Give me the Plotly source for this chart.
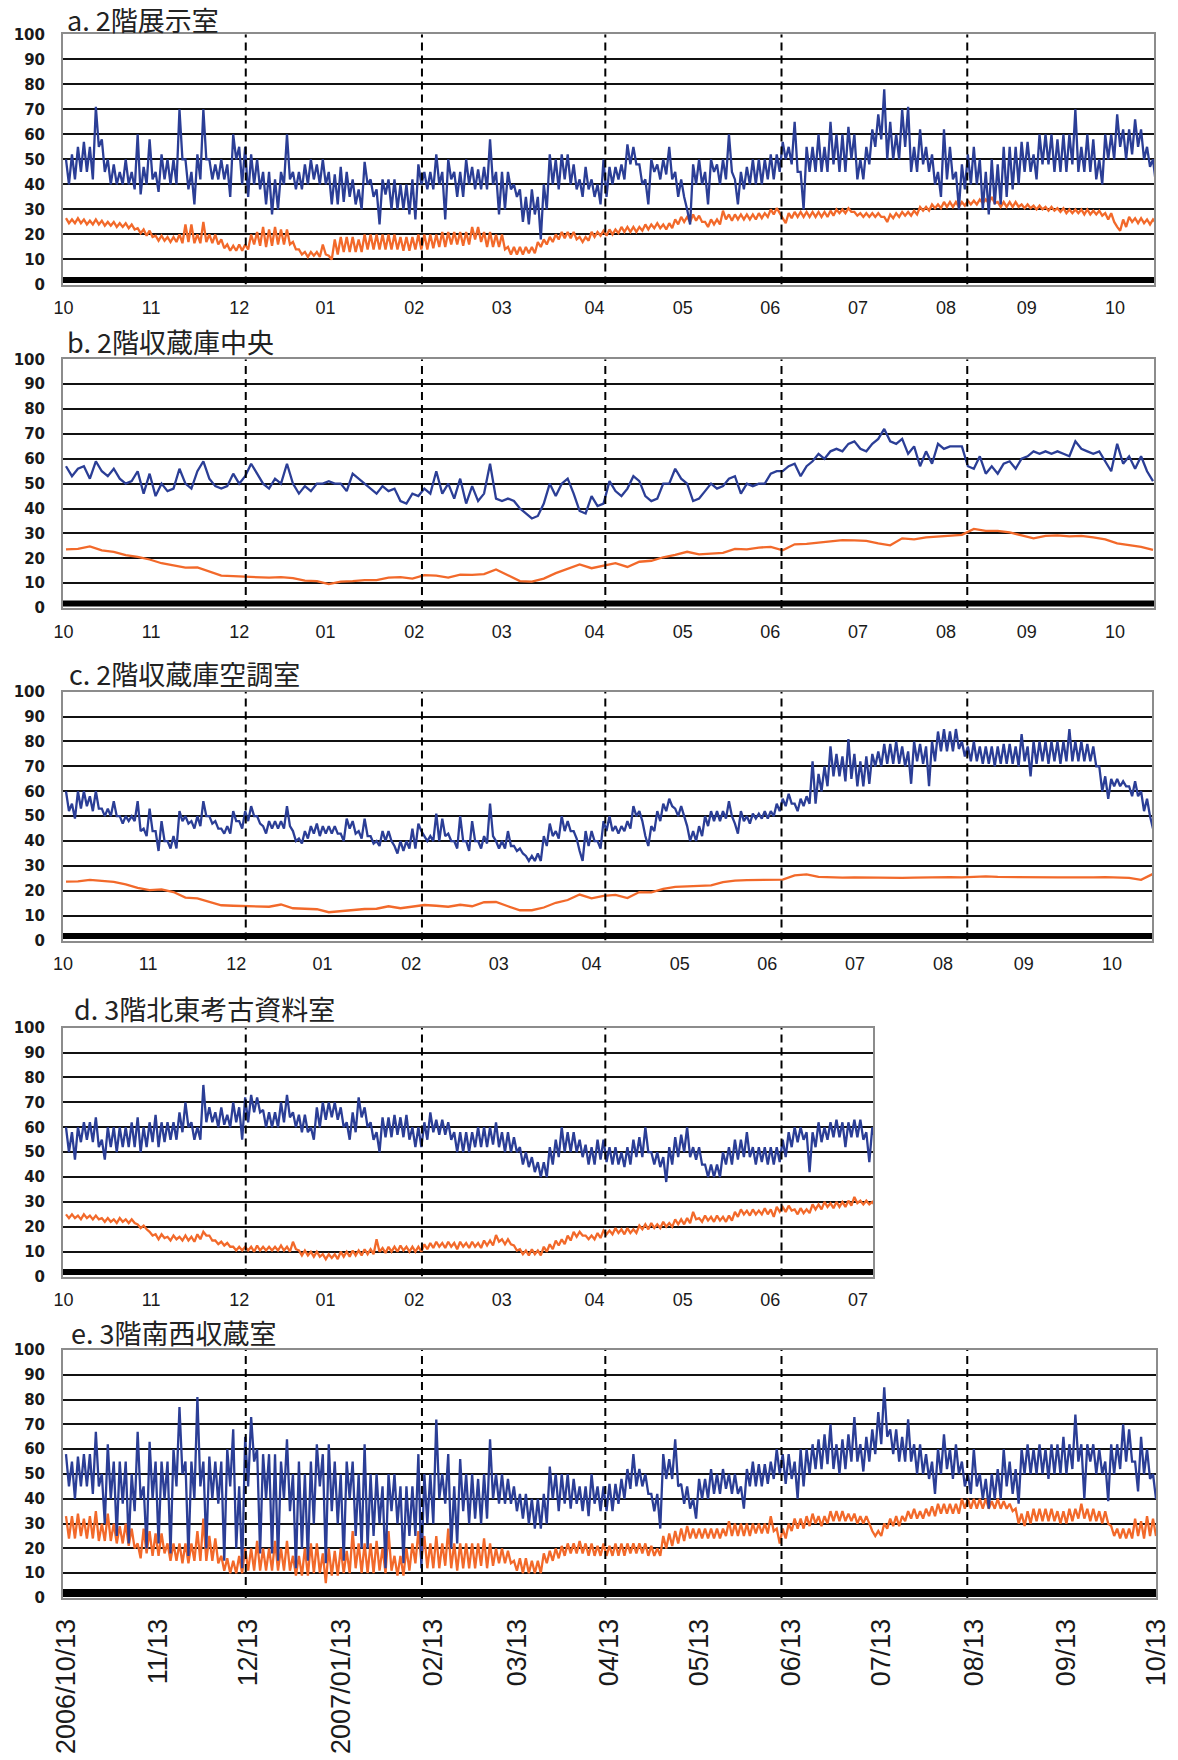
import numpy as np
import pandas as pd
import plotly.graph_objects as go

# ---------------- data ----------------
START = "2006-10-13"
MONTH_LABELS = ["10", "11", "12", "01", "02", "03", "04", "05", "06", "07", "08", "09", "10"]
MONTH_TICK_DAYS = [-0.8, 28.5, 58, 86.9, 116.6, 145.9, 177, 206.5, 235.8, 265.2, 294.7, 321.7, 351.3]
DATE_LABELS = ["2006/10/13", "11/13", "12/13", "2007/01/13", "02/13", "03/13", "04/13",
               "05/13", "06/13", "07/13", "08/13", "09/13", "10/13"]
DATE_TICKS = ["2006-10-13", "2006-11-13", "2006-12-13", "2007-01-13", "2007-02-13", "2007-03-13",
              "2007-04-13", "2007-05-13", "2007-06-13", "2007-07-13", "2007-08-13", "2007-09-13",
              "2007-10-13"]
DASH_DAYS = [60.2, 119.2, 180.6, 239.6, 301.8]

TITLES = ["a. 2階展示室", "b. 2階収蔵庫中央", "c. 2階収蔵庫空調室", "d. 3階北東考古資料室", "e. 3階南西収蔵室"]

# Noisy series: upper (HI) and lower (LO) edge of the band, read every 2 days from 2006/10/13
A_RH_HI = [50, 52, 55, 57, 55, 71, 58, 50, 48, 45,
           50, 45, 60, 47, 58, 45, 52, 50, 50, 70,
           50, 45, 52, 70, 50, 48, 50, 48, 60, 55,
           55, 52, 50, 45, 45, 42, 45, 60, 45, 45,
           48, 50, 48, 50, 45, 44, 47, 45, 42, 38,
           49, 42, 38, 42, 42, 42, 40, 40, 42, 48,
           45, 45, 52, 45, 50, 45, 45, 50, 47, 46,
           47, 58, 45, 45, 45, 40, 38, 35, 38, 35,
           40, 52, 50, 52, 52, 48, 42, 47, 42, 40,
           50, 47, 47, 48, 56, 55, 48, 42, 50, 48,
           50, 55, 45, 42, 30, 48, 50, 45, 50, 48,
           50, 60, 42, 45, 47, 50, 50, 50, 52, 52,
           57, 55, 65, 45, 55, 55, 60, 55, 65, 60,
           60, 63, 60, 50, 55, 62, 68, 78, 65, 60,
           70, 71, 55, 62, 55, 52, 45, 62, 55, 45,
           48, 52, 55, 50, 45, 50, 48, 55, 55, 55,
           57, 57, 52, 60, 60, 60, 58, 60, 60, 70,
           55, 60, 58, 50, 60, 60, 68, 62, 62, 66,
           62, 55, 50]
A_RH_LO = [40, 42, 45, 45, 42, 55, 45, 40, 40, 40,
           40, 38, 36, 40, 42, 37, 42, 40, 40, 50,
           38, 32, 42, 50, 42, 42, 42, 35, 50, 40,
           35, 40, 38, 32, 28, 30, 40, 42, 38, 38,
           40, 42, 40, 40, 32, 32, 33, 35, 32, 30,
           40, 35, 24, 36, 30, 30, 30, 28, 26, 40,
           38, 38, 40, 26, 42, 35, 35, 40, 38, 38,
           38, 40, 28, 30, 38, 35, 25, 24, 28, 18,
           30, 40, 38, 42, 40, 38, 35, 38, 35, 32,
           35, 40, 42, 42, 48, 48, 40, 32, 45, 42,
           44, 42, 35, 35, 24, 40, 40, 32, 45, 40,
           42, 45, 32, 38, 40, 40, 40, 42, 42, 45,
           50, 48, 45, 30, 45, 45, 45, 45, 48, 45,
           45, 50, 42, 42, 48, 55, 58, 50, 50, 50,
           55, 45, 45, 48, 45, 40, 35, 42, 42, 30,
           38, 40, 40, 30, 28, 32, 32, 35, 38, 40,
           45, 45, 42, 48, 48, 45, 45, 45, 48, 45,
           45, 45, 42, 40, 50, 50, 55, 50, 52, 55,
           50, 47, 40]
A_T_HI = [26.5, 26, 26.5, 26, 25.5, 26, 25.5, 25, 25, 24.5,
          24.5, 24, 22.5, 22, 21.5, 19.5, 19.5, 19, 19, 20,
          24, 24, 20, 25, 20, 20, 18, 16, 15.5, 16,
          16, 20, 21, 23, 22, 23, 22, 22, 17, 14,
          13, 13, 13, 16, 11.5, 18, 19, 19, 19, 18,
          20, 20, 20, 20, 20, 20, 19, 19, 19, 20,
          20, 20, 20, 21, 21, 21, 21, 21, 23, 23,
          21, 21, 20, 20, 15, 15, 15, 15, 15, 17,
          18, 19, 20, 21, 21, 21, 19, 19, 21, 21,
          21.5, 22, 22, 23, 23, 23, 23, 24, 24, 24.5,
          24, 24.5, 26, 27, 27, 28, 27.5, 25, 26, 26,
          29.5, 28, 28, 28, 28, 28, 28.5, 28.5, 30, 30.5,
          27, 28.5, 29, 29, 29, 29, 29, 29, 29.5, 30,
          30, 30.5, 29, 28.5, 28.5, 28.5, 28.5, 27, 28, 28.5,
          29, 29, 29.5, 31, 31, 32, 32, 33, 33, 33,
          33, 33.5, 33.5, 34, 34, 35, 33, 33, 33, 33,
          32, 32, 31.5, 31.5, 31, 31, 30.5, 30.5, 30, 30,
          30, 30, 29.5, 29.5, 28.5, 28.5, 23, 26, 27, 26.5,
          26.5, 26, 26]
A_T_LO = [24.5, 24.5, 24.5, 24, 24, 24, 23.5, 23.5, 23, 23,
          22.5, 22, 20.5, 19.5, 19, 17.5, 17.5, 17, 17, 16.5,
          17, 16.5, 16.5, 17, 16.5, 16, 14.5, 13.5, 13.5, 13.5,
          14, 16, 15.5, 15, 15.5, 16, 16, 16, 14, 12,
          11, 11.5, 11, 12, 10, 12, 13, 13, 13, 13,
          14, 14, 14, 14, 14, 14, 13.5, 13.5, 14, 14,
          14, 14.5, 15, 15, 16, 16, 15.5, 16, 18, 17,
          15, 15, 15, 14, 12, 12, 12, 12.5, 12.5, 15,
          16, 17, 18, 18.5, 18.5, 18, 17, 17.5, 19, 19.5,
          19.5, 20, 20.5, 21, 21, 21, 21.5, 22, 22.5, 22.5,
          22, 22.5, 24, 25, 25, 25.5, 25, 23, 24, 24,
          26, 25.5, 26, 26, 26, 26, 26.5, 27, 28, 28.5,
          24.5, 26.5, 27, 27, 27, 27, 27, 27, 27.5, 28.5,
          28.5, 29, 27.5, 27, 27, 27, 27, 25, 26.5, 27,
          27.5, 27.5, 28, 29.5, 29.5, 30.5, 30.5, 31, 31, 31,
          31.5, 32, 32, 32.5, 32.5, 32.5, 31, 31, 31, 31,
          30.5, 30.5, 30, 30, 29.5, 29.5, 29, 28.5, 28.5, 28.5,
          28, 28, 28, 27.5, 26, 25, 21.5, 23, 25, 24.5,
          24.5, 24, 24.5]

# Smoother series: one value every 2 (RH) or 4 (temperature) days
B_RH = [57, 53, 56, 57, 52, 59, 55, 53, 56, 52,
        50, 51, 55, 46, 54, 45, 50, 47, 48, 56,
        50, 48, 55, 59, 52, 49, 48, 49, 54, 50,
        53, 58, 54, 50, 48, 52, 50, 58, 50, 46,
        49, 47, 50, 50, 51, 50, 50, 47, 54, 52,
        50, 48, 46, 49, 47, 48, 43, 42, 46, 45,
        48, 46, 55, 46, 50, 44, 52, 42, 49, 43,
        46, 58, 44, 43, 44, 43, 40, 38, 36, 37,
        42, 50, 45, 50, 52, 46, 39, 38, 45, 41,
        42, 51, 47, 45, 48, 53, 51, 45, 43, 44,
        50, 50, 56, 52, 50, 43, 44, 47, 50, 48,
        49, 52, 53, 46, 50, 49, 50, 50, 54, 55,
        55, 57, 58, 53, 57, 59, 62, 60, 63, 64,
        63, 66, 67, 64, 63, 66, 68, 72, 67, 66,
        68, 62, 65, 57, 63, 58, 66, 64, 65, 65,
        65, 57, 56, 61, 54, 57, 54, 58, 59, 56,
        60, 61, 63, 62, 63, 62, 63, 62, 61, 67,
        64, 63, 62, 63, 59, 55, 66, 58, 61, 56,
        61, 55, 51]
B_T = [23.6, 23.8, 24.8, 23.2, 22.6, 21.3, 20.6, 19.5, 18, 17,
       16.2, 16.3, 14.5, 13, 12.8, 12.6, 12.2, 12.2, 12.4, 12,
       11, 10.8, 9.6, 10.6, 10.8, 11.2, 11.2, 12.2, 12.4, 11.8,
       13.2, 13, 12.2, 13.4, 13.3, 13.6, 15.5, 13, 10.8, 10.6,
       11.8, 14, 15.8, 17.5, 16, 17, 18, 16.5, 18.6, 19,
       20.4, 21.4, 22.6, 21.6, 22, 22.2, 23.8, 23.6, 24.3, 24.6,
       23.2, 25.6, 25.8, 26.2, 26.6, 27.3, 27.2, 27, 26, 25.2,
       28, 27.6, 28.4, 28.8, 29.2, 29.4, 31.8, 31, 31, 30.4,
       29.2, 28, 29, 29.2, 28.8, 29, 28.4, 27.6, 26, 25.4,
       24.6, 23.4]

C_RH_HI = [60, 55, 60, 60, 58, 60, 53, 53, 56, 50,
           50, 50, 56, 45, 53, 44, 48, 40, 42, 52,
           50, 48, 50, 56, 50, 48, 45, 46, 52, 48,
           52, 54, 50, 46, 48, 48, 48, 54, 44, 41,
           44, 46, 47, 46, 46, 46, 43, 49, 48, 44,
           49, 42, 40, 44, 44, 38, 40, 40, 45, 47,
           42, 42, 51, 49, 43, 40, 50, 40, 48, 40,
           42, 55, 40, 40, 44, 38, 37, 34, 34, 35,
           42, 47, 44, 50, 48, 44, 36, 44, 44, 40,
           48, 50, 46, 46, 48, 54, 52, 42, 46, 52,
           55, 57, 53, 54, 46, 44, 46, 50, 52, 52,
           52, 56, 47, 52, 50, 51, 51, 52, 52, 55,
           57, 59, 55, 57, 58, 72, 67, 70, 78, 75,
           74, 81, 75, 72, 74, 75, 76, 79, 79, 80,
           78, 76, 80, 79, 78, 80, 84, 85, 84, 85,
           80, 78, 80, 78, 78, 78, 78, 79, 79, 78,
           83, 78, 80, 80, 80, 80, 80, 80, 85, 80,
           80, 79, 78, 70, 66, 65, 65, 64, 62, 64,
           60, 57, 45]
C_RH_LO = [52, 49, 53, 54, 52, 53, 50, 50, 50, 47,
           48, 48, 44, 42, 44, 36, 40, 37, 37, 48,
           47, 45, 46, 50, 47, 45, 43, 43, 48, 45,
           48, 50, 47, 43, 45, 45, 45, 46, 40, 39,
           41, 43, 42, 43, 43, 43, 40, 45, 43, 41,
           42, 39, 38, 40, 40, 35, 36, 37, 37, 44,
           40, 40, 40, 42, 40, 37, 40, 36, 40, 37,
           39, 42, 37, 37, 38, 36, 35, 32, 32, 32,
           38, 42, 41, 44, 44, 41, 32, 38, 40, 37,
           44, 44, 43, 44, 45, 50, 48, 38, 44, 48,
           52, 54, 50, 50, 40, 40, 42, 46, 48, 48,
           49, 50, 43, 48, 47, 49, 49, 49, 50, 52,
           54, 55, 52, 54, 55, 55, 60, 62, 66, 66,
           64, 65, 62, 62, 63, 70, 70, 71, 71, 71,
           70, 63, 72, 71, 62, 72, 76, 76, 76, 77,
           74, 72, 72, 71, 71, 70, 71, 71, 71, 70,
           72, 66, 71, 72, 71, 72, 71, 72, 72, 72,
           72, 72, 70, 60, 57, 62, 62, 62, 58, 58,
           52, 50, 42]
C_T = [23.7, 23.8, 24.4, 24, 23.6, 22.6, 21.2, 20.3, 20.6, 19.5,
       17.3, 17, 15.5, 14.2, 14, 13.8, 13.6, 13.6, 14.5, 13,
       12.8, 12.6, 11.4, 11.8, 12.4, 12.7, 12.8, 13.8, 13, 13.6,
       14.3, 14, 13.6, 14.4, 13.8, 15.4, 15.5, 13.8, 12.2, 12.2,
       13.3, 15.2, 16.3, 18.5, 17, 18, 18.4, 17.1, 19.5, 19.4,
       20.8, 21.6, 21.8, 22, 22.2, 23.5, 24.1, 24.3, 24.4, 24.5,
       24.5, 26.2, 26.6, 25.6, 25.4, 25.3, 25.4, 25.3, 25.4, 25.3,
       25.2, 25.3, 25.4, 25.4, 25.5, 25.4, 25.6, 25.8, 25.6, 25.5,
       25.4, 25.4, 25.3, 25.4, 25.4, 25.3, 25.4, 25.5, 25.4, 25.2,
       24.4, 26.8]

D_RH_HI = [60, 58, 60, 62, 62, 64, 55, 60, 60, 60,
           60, 62, 64, 60, 62, 65, 62, 62, 62, 66,
           70, 62, 60, 77, 68, 66, 68, 65, 70, 68,
           72, 73, 72, 67, 66, 66, 70, 73, 66, 65,
           65, 60, 68, 70, 70, 70, 68, 62, 66, 72,
           68, 62, 58, 64, 64, 65, 64, 65, 60, 60,
           62, 66, 63, 63, 62, 58, 58, 58, 58, 60,
           60, 60, 62, 58, 58, 56, 52, 50, 48, 46,
           46, 52, 55, 60, 58, 58, 55, 53, 52, 55,
           55, 52, 52, 50, 52, 55, 56, 60, 50, 50,
           48, 52, 56, 57, 60, 52, 52, 45, 45, 45,
           50, 52, 55, 55, 58, 52, 52, 52, 52, 52,
           55, 58, 60, 60, 58, 58, 62, 60, 62, 63,
           62, 62, 63, 63, 58, 60]
D_RH_LO = [50, 47, 54, 55, 54, 52, 47, 52, 50, 52,
           52, 52, 50, 52, 54, 52, 54, 55, 55, 58,
           60, 55, 55, 62, 62, 60, 61, 60, 62, 55,
           62, 66, 66, 60, 60, 60, 62, 64, 60, 58,
           58, 55, 60, 63, 64, 63, 60, 55, 58, 64,
           60, 55, 50, 56, 56, 57, 56, 55, 52, 52,
           55, 58, 57, 57, 55, 50, 50, 50, 52, 52,
           52, 53, 52, 50, 50, 50, 45, 44, 42, 40,
           40, 45, 48, 50, 50, 50, 48, 45, 45, 47,
           46, 45, 45, 44, 45, 48, 48, 50, 45, 44,
           38, 45, 48, 50, 48, 47, 45, 40, 40, 40,
           45, 45, 47, 48, 48, 45, 46, 45, 45, 46,
           48, 52, 54, 55, 42, 52, 54, 55, 56, 56,
           52, 56, 56, 55, 46, 55]
D_T_HI = [25, 25, 24.5, 25, 24.5, 24.5, 23.5, 23.5, 23, 23.5,
          23, 23, 21, 20.5, 18, 17, 17, 16, 16.5, 16,
          16.5, 16, 17, 18, 16.5, 14.5, 14, 13.5, 12, 12,
          12, 12, 12.5, 12, 12, 12, 12.5, 12, 14, 10.5,
          10.5, 10, 10, 9, 9, 9, 10, 10, 10.5, 10.5,
          11, 11, 15, 11.5, 12, 12, 12.5, 12, 12, 12,
          13, 13.5, 14, 13.5, 14, 13.5, 14, 13.5, 14, 13.5,
          14.5, 14.5, 16.7, 15, 15, 12.5, 11, 10.5, 11, 10.5,
          12, 13, 14.5, 15, 16.5, 18, 18, 16.5, 16.5, 17.5,
          18.5, 18.5, 19.5, 19, 19.5, 19, 20.5, 21, 21.5, 21,
          22, 21.5, 23, 23, 23.5, 26, 23.5, 24.5, 24, 24.5,
          24, 24.5, 26, 27, 26.5, 27, 26.5, 27.5, 27, 28,
          28, 28.5, 27, 27.5, 27, 29, 29, 30, 29.5, 30,
          30, 30.5, 32, 30.5, 30.5, 30]
D_T_LO = [23.5, 23.5, 23, 23.5, 23, 23, 22, 22, 21.5, 22,
          21.5, 21.5, 19.5, 19, 16.5, 15, 15.5, 14.5, 15, 14.5,
          14.5, 14, 15, 16.5, 14.5, 13, 12.5, 12, 10.5, 10.5,
          10.5, 10, 10.5, 10.5, 10.5, 10.5, 10.5, 10, 11, 8.5,
          8.5, 8, 8, 7, 7.5, 7, 8, 8, 8.5, 8.5,
          9, 9, 10, 9.5, 10, 10, 10.5, 10, 10, 10,
          11, 11.5, 12, 11.5, 12, 11, 12, 11.5, 12, 11.5,
          12.5, 12.5, 14, 13, 13, 10.5, 9, 8.5, 9, 8.5,
          10, 11, 12.5, 13, 14.5, 16, 16.5, 15, 15, 15.5,
          17, 17, 17.5, 17, 17.5, 17.5, 19, 19, 19.5, 19.5,
          20, 20, 21, 21, 21.5, 23, 22, 22.5, 22, 22.5,
          22, 22.5, 24, 25, 24.5, 25, 25, 25, 24, 26,
          26, 26.5, 25, 25.5, 25.5, 27, 27, 28, 27.5, 28,
          28, 28.5, 29.5, 29, 29, 28.5]

E_RH_HI = [58, 55, 57, 58, 58, 67, 50, 62, 55, 55,
           55, 50, 67, 45, 63, 55, 55, 55, 60, 77,
           55, 55, 81, 55, 57, 55, 55, 60, 68, 45,
           65, 73, 60, 58, 58, 58, 55, 64, 50, 55,
           50, 55, 62, 58, 62, 55, 50, 55, 55, 50,
           62, 50, 50, 45, 50, 50, 45, 45, 45, 58,
           50, 50, 72, 50, 58, 45, 56, 50, 50, 48,
           50, 64, 50, 50, 48, 45, 42, 42, 40, 40,
           42, 53, 50, 50, 50, 48, 45, 45, 50, 45,
           45, 46, 46, 48, 52, 58, 52, 50, 42, 42,
           58, 56, 64, 46, 45, 40, 48, 48, 52, 50,
           52, 50, 50, 45, 52, 55, 54, 54, 55, 60,
           58, 58, 55, 60, 60, 62, 64, 66, 70, 62,
           64, 66, 73, 62, 65, 68, 75, 85, 68, 68,
           65, 72, 62, 62, 58, 55, 60, 66, 60, 62,
           55, 50, 60, 50, 48, 50, 52, 60, 55, 52,
           60, 62, 60, 62, 60, 62, 62, 65, 62, 74,
           62, 62, 62, 60, 55, 62, 62, 70, 68, 55,
           65, 60, 50]
E_RH_LO = [45, 40, 45, 45, 42, 45, 30, 40, 25, 38,
           22, 35, 40, 20, 40, 22, 40, 18, 45, 50,
           17, 40, 45, 20, 40, 38, 15, 45, 20, 12,
           45, 55, 18, 40, 18, 15, 40, 35, 12, 20,
           15, 30, 45, 14, 35, 30, 15, 40, 25, 20,
           20, 25, 30, 12, 35, 30, 14, 25, 25, 12,
           30, 30, 40, 38, 20, 22, 35, 30, 32, 30,
           32, 40, 38, 38, 38, 35, 32, 30, 28, 28,
           30, 40, 35, 38, 36, 38, 35, 33, 38, 35,
           35, 35, 38, 40, 44, 45, 45, 42, 35, 28,
           48, 48, 45, 38, 36, 32, 40, 40, 42, 42,
           44, 42, 42, 36, 45, 45, 45, 46, 48, 50,
           46, 48, 40, 45, 50, 52, 52, 54, 52, 50,
           52, 55, 55, 51, 55, 58, 62, 65, 58, 55,
           55, 55, 50, 50, 48, 42, 50, 52, 48, 50,
           45, 42, 45, 40, 36, 40, 40, 45, 42, 38,
           50, 50, 50, 50, 48, 50, 50, 50, 52, 55,
           40, 55, 50, 50, 39, 50, 52, 55, 55, 43,
           50, 48, 40]
E_T_HI = [33, 33, 34, 32, 33, 35, 30, 34, 30, 29,
          30, 28, 22, 28, 27, 26, 26, 22, 22, 22,
          22, 22, 27, 32, 25, 24, 17, 16, 15, 17,
          20, 20, 23, 20, 20, 23, 20, 23, 17, 17,
          20, 22, 22, 18, 20, 19, 20, 19, 27, 22,
          22, 22, 23, 20, 27, 17, 17, 20, 22, 27,
          25, 22, 25, 22, 28, 22, 22, 22, 22, 22,
          24, 22, 20, 20, 19, 15, 16, 16, 15, 15,
          18, 19, 20, 21, 22, 22, 23, 22, 22, 21,
          22, 21, 22, 22, 22, 22, 22, 22, 21, 20,
          25, 26, 27, 28, 29, 28, 28, 28, 28, 28,
          28, 31, 30, 30, 30, 30, 30, 30, 33, 28,
          28, 30, 32, 32, 33, 34, 33, 33, 35, 35,
          35, 34, 34, 33, 33, 27, 27, 30, 32, 33,
          33, 35, 36, 35, 36, 37, 38, 38, 38, 38,
          40, 40, 40, 40, 40, 39, 40, 39, 38, 36,
          34, 35, 36, 36, 36, 36, 35, 35, 36, 36,
          38, 36, 36, 35, 35, 29, 28, 28, 28, 32,
          31, 33, 32]
E_T_LO = [24, 24, 25, 24, 24, 23, 23, 23, 22, 22,
          21, 20, 16, 18, 17, 17, 18, 15, 15, 14,
          14, 15, 15, 15, 15, 14, 11, 10, 10, 10,
          11, 11, 11, 11, 11, 11, 11, 11, 9, 9,
          9, 10, 10, 6, 9, 9, 10, 10, 12, 10,
          10, 10, 11, 10, 11, 9, 9, 11, 14, 15,
          12, 12, 12, 13, 12, 11, 12, 12, 12, 13,
          12, 13, 14, 14, 14, 11, 10, 10, 10, 10,
          14, 15, 16, 17, 18, 18, 18, 17, 17, 17,
          17, 17, 17, 17, 18, 18, 18, 17, 17, 17,
          20, 21, 22, 23, 24, 24, 24, 24, 24, 24,
          25, 25, 25, 25, 25, 26, 26, 26, 27, 22,
          24, 27, 28, 28, 29, 30, 29, 30, 31, 31,
          31, 31, 30, 30, 30, 25, 25, 28, 29, 29,
          31, 32, 32, 32, 33, 33, 34, 34, 34, 34,
          36, 36, 36, 36, 36, 36, 36, 36, 35, 30,
          29, 30, 31, 31, 31, 31, 30, 30, 31, 32,
          32, 31, 31, 30, 30, 25, 24, 24, 24, 25,
          24, 25, 25]

# ---------------- layout geometry / styles ----------------
W, H = 1178, 1760


def px(p):
    return p / W


def py(p):
    return 1 - p / H


BLUE = "#2b3e96"
ORANGE = "#f2692a"
FRAME = "#8c8c8c"


def band(hi, lo, step=2):
    """Upper and lower edge readings, placed one after the other in time."""
    vals = np.column_stack([hi, lo]).ravel()
    days = np.arange(len(vals)) * (step / 2)
    return days, vals


def plain(vals, step):
    return np.arange(len(vals)) * step, np.asarray(vals)


SERIES = [
    (band(A_RH_HI, A_RH_LO), band(A_T_HI, A_T_LO)),
    (plain(B_RH, 2), plain(B_T, 4)),
    (band(C_RH_HI, C_RH_LO), plain(C_T, 4)),
    (band(D_RH_HI, D_RH_LO), band(D_T_HI, D_T_LO)),
    (band(E_RH_HI, E_RH_LO), band(E_T_HI, E_T_LO)),
]

# (top_px, zero_px, right_px, label kind, label shift, title x, title y, bar width, bar y)
GEOM = [
    (34.3, 284.5, 1154, "month", 0.0, 65, 20, 6, 1.8),
    (359.3, 608.0, 1154, "month", 0.0, 65, 341.5, 6, 1.8),
    (691.7, 940.6, 1152, "month", -1.0, 67, 673.5, 6, 1.8),
    (1027.7, 1276.6, 873, "month10", 0.0, 72, 1008.5, 6, 1.8),
    (1350.0, 1598.0, 1156, "date", 0.0, 69, 1332.5, 8, 2.0),
]
LEFT_PX = 63
X0 = -1.0
PX_PER_DAY = (1156 - LEFT_PX) / (365 - X0)

fig = go.Figure()
layout = dict(width=W, height=H, margin=dict(l=0, r=0, t=0, b=0, pad=0, autoexpand=False),
              autosize=False, paper_bgcolor="white", plot_bgcolor="white", showlegend=False)
shapes, annotations = [], []
date_days = [(pd.Timestamp(d) - pd.Timestamp(START)).days for d in DATE_TICKS]

for i, ((rh, t), (top, zero, right, kind, shift, tx, ty, bar_w, bar_y), title) in enumerate(
        zip(SERIES, GEOM, TITLES), start=1):
    xs = "" if i == 1 else str(i)
    x1 = X0 + (right - LEFT_PX) / PX_PER_DAY
    xr = [X0, x1]

    fig.add_trace(go.Scatter(x=t[0], y=t[1], mode="lines", line=dict(color=ORANGE, width=2.3),
                             xaxis="x" + xs, yaxis="y" + xs, hoverinfo="skip"))
    fig.add_trace(go.Scatter(x=rh[0], y=rh[1], mode="lines", line=dict(color=BLUE, width=2.3),
                             xaxis="x" + xs, yaxis="y" + xs, hoverinfo="skip"))
    fig.add_trace(go.Scatter(x=xr, y=[bar_y, bar_y], mode="lines",
                             line=dict(color="black", width=bar_w),
                             xaxis="x" + xs, yaxis="y" + xs, hoverinfo="skip"))

    if kind == "date":
        tickvals, ticktext = date_days, DATE_LABELS
        tickfont = dict(family="Liberation Sans, Arial", size=27, color="#1a1a1a")
        tickangle, standoff = -90, 8
    else:
        n = 10 if kind == "month10" else len(MONTH_LABELS)
        tickvals = [max(v + shift, X0) for v in MONTH_TICK_DAYS[:n]]
        ticktext = MONTH_LABELS[:n]
        tickfont = dict(family="Liberation Sans, Arial", size=18, color="#1a1a1a")
        tickangle, standoff = 0, 6

    layout["xaxis" + xs] = dict(
        domain=[px(LEFT_PX), px(right)], range=xr, anchor="y" + xs, automargin=False,
        showgrid=False, zeroline=False, showline=True, mirror=True,
        linecolor=FRAME, linewidth=2, ticks="", tickmode="array",
        tickvals=tickvals, ticktext=ticktext, tickfont=tickfont, tickangle=tickangle,
        ticklabelstandoff=standoff, fixedrange=True)
    layout["yaxis" + xs] = dict(
        domain=[py(zero), py(top)], range=[0, 100], anchor="x" + xs, automargin=False,
        tickmode="array", tickvals=list(range(0, 101, 10)),
        showgrid=True, gridcolor="#111111", gridwidth=2, zeroline=False,
        showline=True, mirror=True, linecolor=FRAME, linewidth=2, ticks="",
        tickfont=dict(family="DejaVu Sans", size=15, color="#1a1a1a", weight="bold"),
        ticklabelstandoff=13, fixedrange=True)

    for d in DASH_DAYS:
        if d < x1:
            shapes.append(dict(type="line", xref="x" + xs, yref="y" + xs,
                               x0=d, x1=d, y0=0, y1=100, layer="above",
                               line=dict(color="black", width=2, dash="8px,5px")))

    annotations.append(dict(text=title, xref="paper", yref="paper", x=px(tx), y=py(ty),
                            xanchor="left", yanchor="middle", showarrow=False,
                            font=dict(family="Noto Sans CJK JP", size=27, color="#222222")))

layout["shapes"] = shapes
layout["annotations"] = annotations
fig.update_layout(**layout)
fig.write_html("out.html", config={"displayModeBar": False},
               post_script="document.body.style.margin='0';document.body.style.overflow='hidden';")
